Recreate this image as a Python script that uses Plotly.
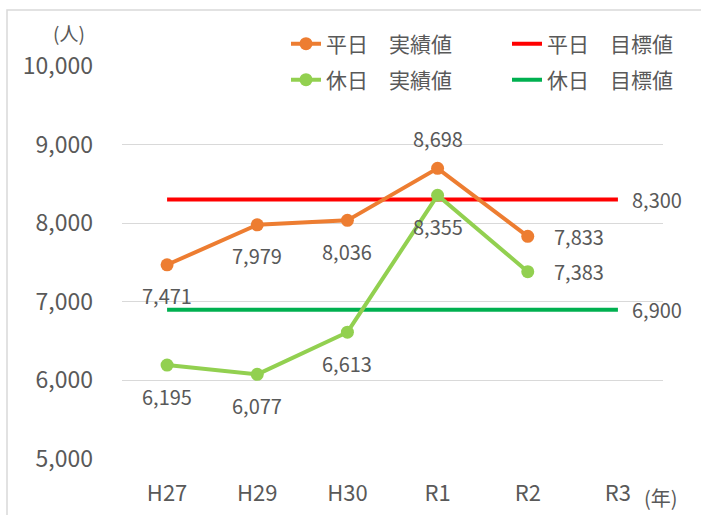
import plotly.graph_objects as go

# Visitor counts per year (people)
years = ["H27", "H29", "H30", "R1", "R2", "R3"]
weekday_actual = [7471, 7979, 8036, 8698, 7833, None]
holiday_actual = [6195, 6077, 6613, 8355, 7383, None]
weekday_target = [8300, 8300, 8300, 8300, 8300, 8300]
holiday_target = [6900, 6900, 6900, 6900, 6900, 6900]

# Where each actual value's label sits relative to its marker
weekday_label_pos = ["below", "below", "below", "above", "right", None]
holiday_label_pos = ["below", "below", "below", "below", "right", None]

FONT = "Noto Sans CJK JP"
TXT = "#595959"
GRID = "#d9d9d9"
C_WD = "#ED7D31"
C_HD = "#92D050"
C_WD_T = "#FF0000"
C_HD_T = "#00B050"

# Plot area in pixels
W, H = 701, 515
L, R, T, B = 122, 38, 66, 56
pw, ph = W - L - R, H - T - B


def px_x(x):
    return (x - L) / pw


def px_y(y):
    return (H - y - B) / ph


fig = go.Figure()

fig.add_trace(go.Scatter(
    x=years, y=weekday_target, mode="lines", name="平日　目標値",
    line=dict(color=C_WD_T, width=4), legend="legend", hoverinfo="skip"))
fig.add_trace(go.Scatter(
    x=years, y=holiday_target, mode="lines", name="休日　目標値",
    line=dict(color=C_HD_T, width=4), legend="legend2", hoverinfo="skip"))
fig.add_trace(go.Scatter(
    x=years, y=holiday_actual, mode="lines+markers", name="休日　実績値",
    line=dict(color=C_HD, width=4), marker=dict(color=C_HD, size=13),
    legend="legend2"))
fig.add_trace(go.Scatter(
    x=years, y=weekday_actual, mode="lines+markers", name="平日　実績値",
    line=dict(color=C_WD, width=4), marker=dict(color=C_WD, size=13),
    legend="legend"))

LABEL_FONT = dict(family=FONT, size=20, color=TXT)
annotations = []


def add_labels(values, positions):
    for x, v, p in zip(years, values, positions):
        if v is None or p is None:
            continue
        a = dict(x=x, y=v, xref="x", yref="y", text=f"{v:,}", showarrow=False,
                 font=LABEL_FONT)
        if p == "below":
            a.update(yshift=-31)
        elif p == "above":
            a.update(yshift=30)
        elif p == "right":
            a.update(xanchor="left", xshift=24)
        annotations.append(a)


add_labels(weekday_actual, weekday_label_pos)
add_labels(holiday_actual, holiday_label_pos)

for vals in (weekday_target, holiday_target):
    annotations.append(dict(
        x=years[-1], y=vals[-1], xref="x", yref="y", text=f"{vals[-1]:,}",
        showarrow=False, xanchor="left", xshift=12, font=LABEL_FONT))

annotations.append(dict(
    x=px_x(69), y=px_y(33), xref="paper", yref="paper", text="(人)",
    xanchor="center", yanchor="middle",
    showarrow=False, font=dict(family=FONT, size=19, color=TXT)))
annotations.append(dict(
    x=px_x(661), y=px_y(497), xref="paper", yref="paper", text="(年)",
    xanchor="center", yanchor="middle",
    showarrow=False, font=dict(family=FONT, size=20, color=TXT)))

legend_common = dict(
    orientation="h", xref="container", yref="container",
    xanchor="left", yanchor="middle", entrywidth=176, entrywidthmode="pixels",
    font=dict(family=FONT, size=21, color=TXT), bgcolor="rgba(0,0,0,0)",
    traceorder="reversed", itemclick=False)

fig.update_layout(
    width=W, height=H,
    margin=dict(l=L, r=R, t=T, b=B, autoexpand=False),
    paper_bgcolor="white", plot_bgcolor="white",
    font=dict(family=FONT, color=TXT),
    showlegend=True,
    legend=dict(x=286 / W, y=1 - 44 / H, **legend_common),
    legend2=dict(x=286 / W, y=1 - 80 / H, **legend_common),
    xaxis=dict(
        range=[-0.5, 5.5], showgrid=False, zeroline=False, showline=False,
        ticks="", tickfont=dict(family=FONT, size=22, color=TXT),
        ticklabelstandoff=19, fixedrange=True),
    yaxis=dict(
        range=[5000, 10000], dtick=1000, tickformat=",", showgrid=True,
        gridcolor=GRID, gridwidth=1, zeroline=False, showline=False,
        ticks="", tickfont=dict(family=FONT, size=23, color=TXT),
        ticklabelstandoff=28, fixedrange=True),
    annotations=annotations,
    shapes=[dict(type="rect", xref="paper", yref="paper",
                 x0=px_x(7), x1=px_x(W + 20),
                 y0=px_y(H + 20), y1=px_y(10),
                 line=dict(color=GRID, width=1.5), layer="below")],
)

fig.write_html("out.html")
